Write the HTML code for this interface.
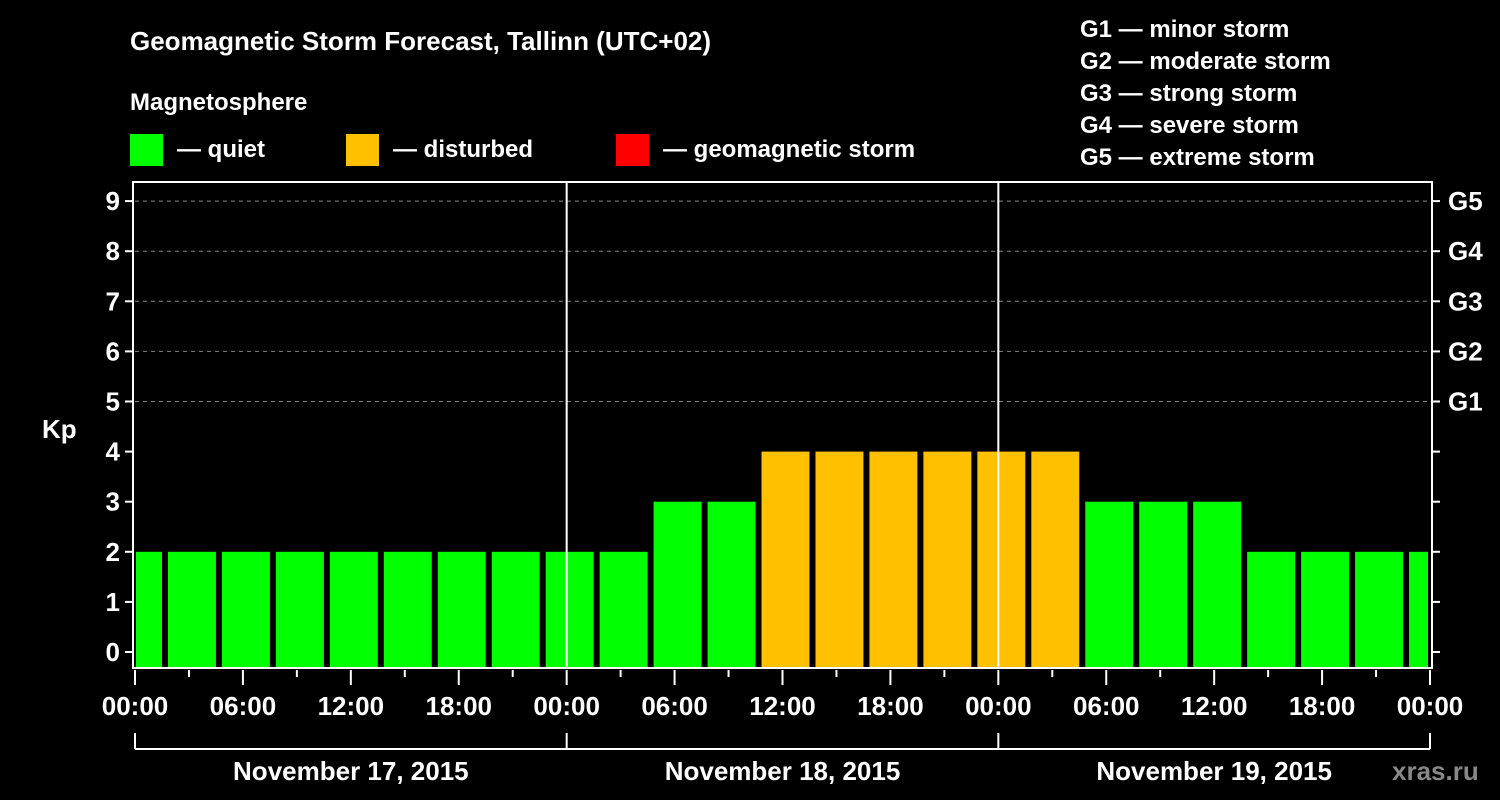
<!DOCTYPE html>
<html><head><meta charset="utf-8"><style>
html,body{margin:0;padding:0;background:#000;}
svg{display:block;font-family:"Liberation Sans",Arial,sans-serif;font-weight:bold;}
</style></head><body>
<svg id="chart" width="1500" height="800" viewBox="0 0 1500 800">
<rect width="1500" height="800" fill="#000"/>
<text x="130" y="50" fill="#fff" font-size="26">Geomagnetic Storm Forecast, Tallinn (UTC+02)</text>
<text x="130" y="110" fill="#fff" font-size="24">Magnetosphere</text>
<g><rect x="130" y="134" width="33" height="32" fill="#00ff00"/><text x="177" y="157" fill="#fff" font-size="24">— quiet</text></g>
<g><rect x="346" y="134" width="33" height="32" fill="#ffc000"/><text x="393" y="157" fill="#fff" font-size="24">— disturbed</text></g>
<g><rect x="616" y="134" width="33" height="32" fill="#ff0000"/><text x="663" y="157" fill="#fff" font-size="24">— geomagnetic storm</text></g>
<g fill="#fff" font-size="24">
<text x="1080" y="37">G1 — minor storm</text>
<text x="1080" y="69">G2 — moderate storm</text>
<text x="1080" y="101">G3 — strong storm</text>
<text x="1080" y="133">G4 — severe storm</text>
<text x="1080" y="165">G5 — extreme storm</text>
</g>
<text x="42" y="438" fill="#fff" font-size="26">Kp</text>
<text x="1392" y="780" fill="#888" font-size="26">xras.ru</text>
<g id="plot"></g>
</svg>
<script>
const kpValues=[2,2,2,2,2,2,2,2,2,2,3,3,4,4,4,4,4,4,3,3,3,2,2,2,2];
const yTicks=[0,1,2,3,4,5,6,7,8,9];
const gLabels=["G1","G2","G3","G4","G5"];
const gLevels=[5,6,7,8,9];
const xTickLabels=["00:00","06:00","12:00","18:00","00:00","06:00","12:00","18:00","00:00","06:00","12:00","18:00","00:00"];
const dayLabels=["November 17, 2015","November 18, 2015","November 19, 2015"];
const NS="http://www.w3.org/2000/svg";
const L=135,R=1430,T=182,B=668;
const pxHour=(R-L)/72;
const xOf=h=>L+h*pxHour;
const yOf=v=>652-50.1*v;
const g=document.getElementById('plot');
function mk(tag,attrs,parent){const e=document.createElementNS(NS,tag);for(const k in attrs)e.setAttribute(k,attrs[k]);(parent||g).appendChild(e);return e;}
// grid
gLevels.forEach(v=>{const l=mk('line',{x1:L,x2:R,y1:yOf(v),y2:yOf(v),stroke:'#888','stroke-dasharray':'4,4','stroke-width':1});

});
// bars
kpValues.forEach((v,i)=>{
 const h0=-1.5+3*i+1/3, h1=h0+(48/54)*3;
 const x0=Math.max(xOf(h0),L+1), x1=Math.min(xOf(h1),R-2);
 const col=v>=5?'#ff0000':(v>=4?'#ffc000':'#00ff00');
 const r=mk('rect',{x:x0,y:yOf(v),width:x1-x0,height:B-yOf(v),fill:col});
 
 
});
// day separators
[24,48].forEach(h=>{const l=mk('line',{x1:xOf(h),x2:xOf(h),y1:T,y2:B,stroke:'#fff','stroke-width':2});

});
// frame
const fr=mk('rect',{x:L-2,y:T,width:R-L+4,height:B-T,fill:'none',stroke:'#fff','stroke-width':2});


// y ticks
yTicks.forEach(v=>{
 mk('line',{x1:L-10,x2:L-2,y1:yOf(v),y2:yOf(v),stroke:'#fff','stroke-width':2});
 mk('line',{x1:R+2,x2:R+10,y1:yOf(v),y2:yOf(v),stroke:'#fff','stroke-width':2});
 const t=mk('text',{x:L-15,y:yOf(v)+9,fill:'#fff','font-size':26,'text-anchor':'end'});t.textContent=v;
 
 
});
gLabels.forEach((s,i)=>{const t=mk('text',{x:R+18,y:yOf(gLevels[i])+9,fill:'#fff','font-size':26});t.textContent=s;

});
// x ticks
for(let h=0;h<=72;h+=3){const major=h%6===0;mk('line',{x1:xOf(h),x2:xOf(h),y1:B+2,y2:B+(major?17:9),stroke:'#fff','stroke-width':2});}
xTickLabels.forEach((s,i)=>{const t=mk('text',{x:xOf(i*6),y:715,fill:'#fff','font-size':26,'text-anchor':'middle'});t.textContent=s;

});
// day bracket
mk('line',{x1:L,x2:R,y1:749,y2:749,stroke:'#fff','stroke-width':2});
[0,24,48,72].forEach(h=>mk('line',{x1:xOf(h),x2:xOf(h),y1:733,y2:749,stroke:'#fff','stroke-width':2}));
dayLabels.forEach((s,i)=>{const t=mk('text',{x:xOf(i*24+12),y:780,fill:'#fff','font-size':26,'text-anchor':'middle'});t.textContent=s;

});
</script>
</body></html>
